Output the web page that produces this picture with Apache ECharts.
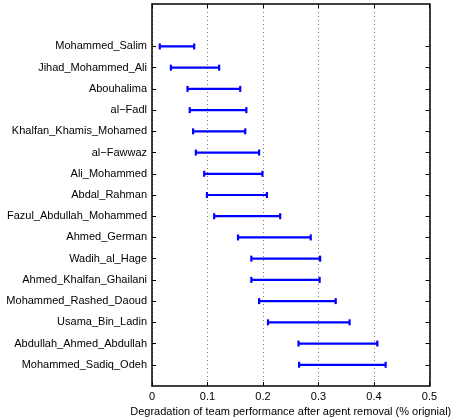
<!DOCTYPE html>
<html>
<head>
<meta charset="utf-8">
<script src="https://cdn.jsdelivr.net/npm/echarts@6/dist/echarts.min.js"></script>
<style>
  html, body { margin: 0; padding: 0; background: #fff; }
  #chart { width: 455px; height: 418px; }
</style>
</head>
<body>
<div id="chart"></div>
<script>
// Agents, listed top to bottom
const agents = [
  'Mohammed_Salim', 'Jihad_Mohammed_Ali', 'Abouhalima', 'al\u2212Fadl',
  'Khalfan_Khamis_Mohamed', 'al\u2212Fawwaz', 'Ali_Mohammed', 'Abdal_Rahman',
  'Fazul_Abdullah_Mohammed', 'Ahmed_German', 'Wadih_al_Hage', 'Ahmed_Khalfan_Ghailani',
  'Mohammed_Rashed_Daoud', 'Usama_Bin_Ladin', 'Abdullah_Ahmed_Abdullah', 'Mohammed_Sadiq_Odeh'
];
// Lower and upper bounds of the degradation interval
const lower = [0.014, 0.034, 0.064, 0.068, 0.074, 0.079, 0.094, 0.099,
               0.112, 0.155, 0.179, 0.179, 0.193, 0.209, 0.264, 0.265];
const upper = [0.076, 0.121, 0.159, 0.170, 0.168, 0.193, 0.199, 0.207,
               0.231, 0.286, 0.303, 0.302, 0.331, 0.356, 0.406, 0.421];
const xTicks = [0, 0.1, 0.2, 0.3, 0.4, 0.5];

// Row position on the vertical axis (first agent at the top)
const rowPos = agents.map((_, i) => agents.length - i);
const rowLabel = {};
agents.forEach((a, i) => { rowLabel[rowPos[i]] = a; });

const data = agents.map((a, i) => [lower[i], upper[i], rowPos[i]]);

const FONT = 'Liberation Sans, Arial, Helvetica, sans-serif';
const chart = echarts.init(document.getElementById('chart'), null, { renderer: 'canvas' });

const axisLine = { show: true, onZero: false, lineStyle: { color: '#000', width: 1.5 } };

chart.setOption({
  animation: false,
  backgroundColor: '#fff',
  grid: { left: 152, right: 25.5, top: 4, bottom: 32, containLabel: false,
          outerBoundsMode: 'none' },
  xAxis: [
    {
      type: 'value', position: 'bottom', min: 0, max: 0.5, interval: 0.1,
      axisLine,
      axisTick: { show: true, inside: true, length: 4, lineStyle: { color: '#000' } },
      axisLabel: { color: '#000', fontFamily: FONT, fontSize: 11, margin: 5,
                   customValues: xTicks,
                   formatter: v => (v === 0 ? '0' : String(+v.toFixed(1))) },
      splitLine: { show: true, lineStyle: { color: '#777', type: [1, 3], width: 1 } },
      name: 'Degradation of team performance after agent removal (% orignial)',
      nameLocation: 'middle', nameGap: 17,
      nameTextStyle: { color: '#000', fontFamily: FONT, fontSize: 11 }
    },
    {
      type: 'value', position: 'top', min: 0, max: 0.5, interval: 0.1,
      axisLine,
      axisTick: { show: true, inside: true, length: 4, lineStyle: { color: '#000' } },
      axisLabel: { show: false },
      splitLine: { show: false }
    }
  ],
  yAxis: [
    {
      type: 'value', position: 'left', min: 0, max: 18,
      axisLine,
      axisTick: { show: true, inside: true, length: 4, customValues: rowPos,
                  lineStyle: { color: '#000' } },
      axisLabel: { color: '#000', fontFamily: FONT, fontSize: 11, margin: 5,
                   customValues: rowPos, formatter: v => rowLabel[v] || '' },
      splitLine: { show: false }
    },
    {
      type: 'value', position: 'right', min: 0, max: 18,
      axisLine,
      axisTick: { show: true, inside: true, length: 4, customValues: rowPos,
                  lineStyle: { color: '#000' } },
      axisLabel: { show: false },
      splitLine: { show: false }
    }
  ],
  series: [{
    type: 'custom',
    xAxisIndex: 0, yAxisIndex: 0,
    data,
    renderItem: (params, api) => {
      const p0 = api.coord([api.value(0), api.value(2)]);
      const p1 = api.coord([api.value(1), api.value(2)]);
      const h = 3;
      const style = { stroke: '#0000ff', lineWidth: 2.2, fill: null };
      return {
        type: 'group',
        children: [
          { type: 'line', shape: { x1: p0[0], y1: p0[1], x2: p1[0], y2: p1[1] }, style },
          { type: 'line', shape: { x1: p0[0], y1: p0[1] - h, x2: p0[0], y2: p0[1] + h }, style },
          { type: 'line', shape: { x1: p1[0], y1: p1[1] - h, x2: p1[0], y2: p1[1] + h }, style }
        ]
      };
    }
  }]
});
</script>
</body>
</html>
